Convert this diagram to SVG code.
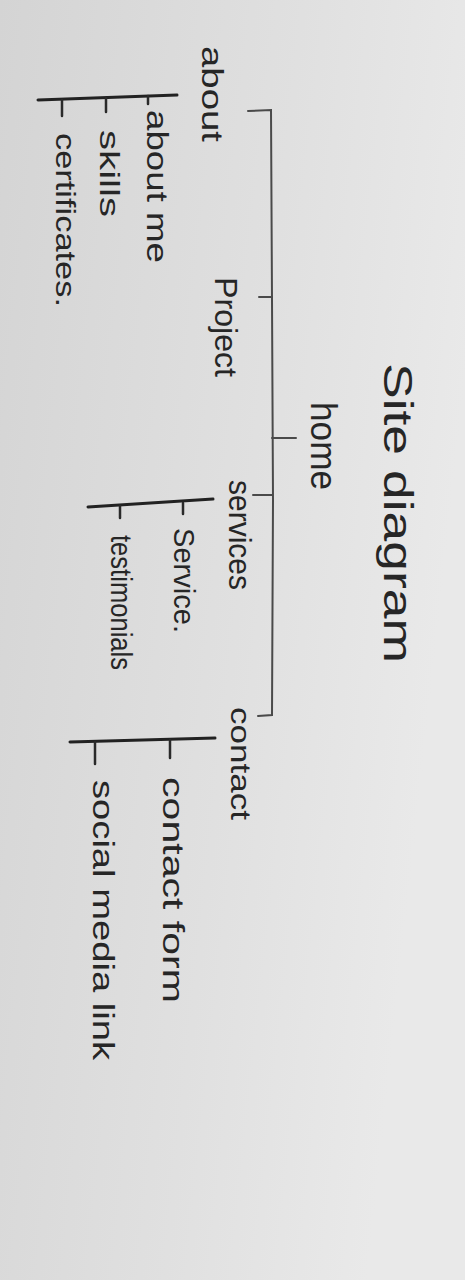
<svg xmlns="http://www.w3.org/2000/svg" width="465" height="1280" viewBox="0 0 465 1280">
<defs>
<linearGradient id="bg" x1="0" y1="0" x2="1" y2="0.3">
<stop offset="0" stop-color="#d4d4d4"/>
<stop offset="0.6" stop-color="#e0e0e0"/>
<stop offset="1" stop-color="#e9e9e9"/>
</linearGradient>
<style>
.t{font-family:"Liberation Sans",Arial,sans-serif;fill:#262626;}
.main{fill:none;stroke:#4a4a4a;stroke-width:2;stroke-linecap:round;}
.br{fill:none;stroke:#222;stroke-width:3;stroke-linecap:round;}
.tk{fill:none;stroke:#2a2a2a;stroke-width:2.5;stroke-linecap:round;}
</style>
</defs>
<rect width="465" height="1280" fill="url(#bg)"/>
<g id="connectors">
<path class="main" d="M248,111 L271,110 L272,300 L273,500 L272,715 L258,716"/>
<path class="main" d="M272,438 L296,438"/>
<path class="main" d="M272,297 L259,297"/>
<path class="main" d="M272,495 L253,495"/>
<path class="br" d="M38,100 L177,95"/>
<path class="tk" d="M62,100 L62,116"/>
<path class="tk" d="M106,98 L106,112"/>
<path class="tk" d="M148,96 L148,104"/>
<path class="br" d="M88,507 L213,499"/>
<path class="tk" d="M183,503 L183,514"/>
<path class="tk" d="M120,506 L120,518"/>
<path class="br" d="M70,742 L215,738"/>
<path class="tk" d="M170,740 L170,758"/>
<path class="tk" d="M95,742 L95,764"/>
</g>
<g id="title"><text class="t" transform="translate(384,363) rotate(90)" font-size="40" textLength="300" lengthAdjust="spacingAndGlyphs">Site diagram</text></g>
<g id="home"><text class="t" transform="translate(311,402) rotate(90)" font-size="36" textLength="88" lengthAdjust="spacingAndGlyphs">home</text></g>
<g id="about"><text class="t" transform="translate(202,46) rotate(90)" font-size="30" textLength="96" lengthAdjust="spacingAndGlyphs">about</text></g>
<g id="project"><text class="t" transform="translate(215,277) rotate(90)" font-size="32" textLength="100" lengthAdjust="spacingAndGlyphs">Project</text></g>
<g id="services"><text class="t" transform="translate(229,480) rotate(90)" font-size="32" textLength="110" lengthAdjust="spacingAndGlyphs">services</text></g>
<g id="contact"><text class="t" transform="translate(231,707) rotate(90)" font-size="28" textLength="113" lengthAdjust="spacingAndGlyphs">contact</text></g>
<g id="about-me"><text class="t" transform="translate(147,110) rotate(90)" font-size="30" textLength="153" lengthAdjust="spacingAndGlyphs">about me</text></g>
<g id="skills"><text class="t" transform="translate(100,130) rotate(90)" font-size="28" textLength="87" lengthAdjust="spacingAndGlyphs">skills</text></g>
<g id="certificates"><text class="t" transform="translate(56,133) rotate(90)" font-size="28" textLength="174" lengthAdjust="spacingAndGlyphs">certificates.</text></g>
<g id="service"><text class="t" transform="translate(174,528) rotate(90)" font-size="29" textLength="105" lengthAdjust="spacingAndGlyphs">Service.</text></g>
<g id="testimonials"><text class="t" transform="translate(111,535) rotate(90)" font-size="29" textLength="135" lengthAdjust="spacingAndGlyphs">testimonials</text></g>
<g id="contact-form"><text class="t" transform="translate(163,777) rotate(90)" font-size="30" textLength="226" lengthAdjust="spacingAndGlyphs">contact form</text></g>
<g id="social-media-link"><text class="t" transform="translate(93,780) rotate(90)" font-size="30" textLength="280" lengthAdjust="spacingAndGlyphs">social media link</text></g>
</svg>
